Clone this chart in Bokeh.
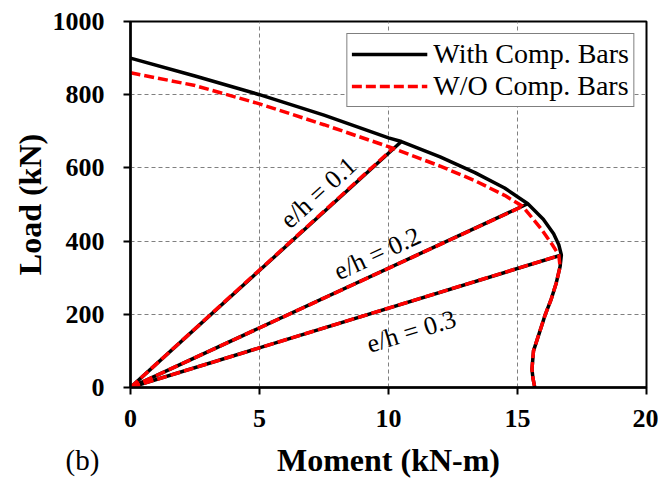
import math
from bokeh.plotting import figure
from bokeh.models import Range1d, Legend, LegendItem, Label, FixedTicker, Title
from bokeh.embed import file_html
from bokeh.resources import INLINE

# ---- data ----
with_moment = [0, 2.5, 5, 7.5, 10, 10.5, 12, 13.35, 14.5, 15.4, 16.0, 16.4, 16.6, 16.7,
               16.65, 16.5, 16.3, 16.08, 15.85, 15.62, 15.56, 15.6, 15.67]
with_load = [900, 851, 800, 744, 682, 672, 630, 587, 545, 502, 460, 420, 390, 362,
             330, 285, 240, 200, 150, 100, 50, 25, 0]

wo_moment = [0, 2.5, 5, 7.5, 10, 12, 13.35, 14.5, 15.2, 15.9, 16.35, 16.6,
             16.65, 16.5, 16.3, 16.08, 15.85, 15.62, 15.56, 15.6, 15.67]
wo_load = [860, 825, 775, 718, 658, 605, 565, 525, 495, 435, 390, 362,
           330, 285, 240, 200, 150, 100, 50, 25, 0]

eh_labels = ["e/h = 0.1", "e/h = 0.2", "e/h = 0.3"]
ray_with_moment = [10.5, 15.4, 16.7]
ray_with_load = [672, 502, 362]
ray_wo_moment = [10.2, 15.2, 16.6]
ray_wo_load = [655, 495, 360]

x_ticks = [0, 5, 10, 15, 20]
y_ticks = [0, 200, 400, 600, 800, 1000]

FONT = "Liberation Serif"
FRAME_W, FRAME_H = 516, 366
BL, BT, BR, BB = 130, 21, 12, 94

p = figure(width=BL + FRAME_W + BR, height=BT + FRAME_H + BB,
           output_backend="svg", toolbar_location=None,
           x_range=Range1d(0, 20), y_range=Range1d(0, 1000),
           min_border_left=BL, min_border_top=BT, min_border_right=BR,
           min_border_bottom=BB)
p.background_fill_color = "white"
p.border_fill_color = "white"
p.outline_line_color = "black"
p.outline_line_width = 2

for g in (p.xgrid, p.ygrid):
    g.grid_line_color = "#808080"
    g.grid_line_width = 1
    g.grid_line_dash = "4 3"
p.xaxis.ticker = FixedTicker(ticks=x_ticks)
p.yaxis.ticker = FixedTicker(ticks=y_ticks)
p.xgrid.ticker = FixedTicker(ticks=x_ticks)
p.ygrid.ticker = FixedTicker(ticks=y_ticks)

for ax in (p.xaxis, p.yaxis):
    ax.axis_line_width = 2.5
    ax.axis_line_color = "black"
    ax.major_tick_line_width = 2
    ax.major_tick_line_color = "black"
    ax.major_tick_out = 7
    ax.major_tick_in = 0
    ax.minor_tick_line_color = None
    ax.major_label_text_font = FONT
    ax.major_label_text_font_style = "bold"
    ax.major_label_text_font_size = "26px"
    ax.major_label_text_color = "black"
    ax.axis_label_text_font = FONT
    ax.axis_label_text_font_style = "bold"
    ax.axis_label_text_font_size = "32px"
    ax.axis_label_text_color = "black"

p.xaxis.axis_label = "Moment (kN-m)"
p.yaxis.axis_label = "Load (kN)"
p.xaxis.major_label_standoff = 15
p.yaxis.major_label_standoff = 19
p.xaxis.axis_label_standoff = 12
p.yaxis.axis_label_standoff = 2

# radial load paths: black solid underneath, red dashed on top
for i in range(3):
    p.line([0, ray_with_moment[i]], [0, ray_with_load[i]], line_color="black", line_width=3.5)
for i in range(3):
    p.line([0, ray_wo_moment[i]], [0, ray_wo_load[i]], line_color="red",
           line_width=3.5, line_dash="10 4")

r_with = p.line(with_moment, with_load, line_color="black", line_width=3.5)
r_wo = p.line(wo_moment, wo_load, line_color="red", line_width=3.5, line_dash="10 4")

# e/h labels placed along each ray
fracs = [0.738, 0.64, 0.632]
perp = [18, 18, -29]
for i in range(3):
    dx = ray_with_moment[i] / 20 * FRAME_W
    dy = ray_with_load[i] / 1000 * FRAME_H
    ang = math.atan2(dy, dx)
    nx, ny = -math.sin(ang), math.cos(ang)
    p.add_layout(Label(x=fracs[i] * ray_with_moment[i], y=fracs[i] * ray_with_load[i],
                       x_offset=nx * perp[i], y_offset=ny * perp[i], angle=ang,
                       text=eh_labels[i], text_font=FONT, text_font_size="26px",
                       text_align="center", text_baseline="middle", text_color="black"))

legend = Legend(items=[LegendItem(label="With Comp. Bars", renderers=[r_with]),
                       LegendItem(label="W/O Comp. Bars", renderers=[r_wo])],
                location="top_right")
legend.label_text_font = FONT
legend.label_text_font_size = "28px"
legend.label_text_color = "black"
legend.label_text_line_height = 1.0
legend.glyph_width = 76
legend.label_standoff = 6
legend.padding = 4
legend.spacing = 0
legend.margin = 12
legend.border_line_color = "black"
legend.border_line_width = 1.5
legend.background_fill_alpha = 1
p.add_layout(legend)

p.add_layout(Title(text="(b)", align="left", offset=-65, standoff=-74,
                   vertical_align="top",
                   text_font=FONT, text_font_size="29px", text_font_style="normal",
                   text_color="black"), "below")

open("out.html", "w").write(file_html(p, INLINE))
